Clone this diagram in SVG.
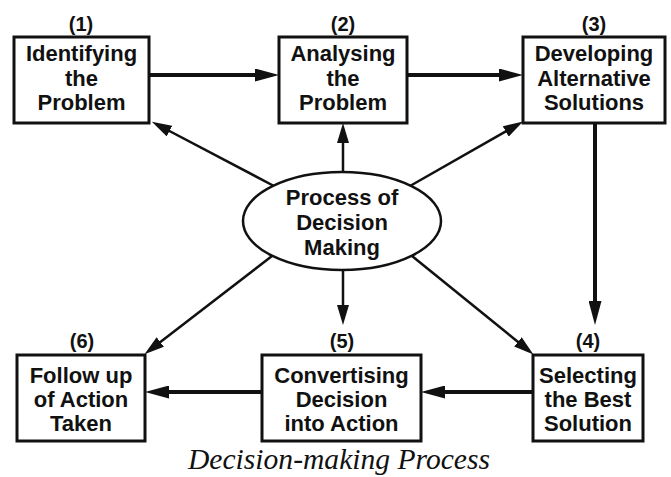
<svg xmlns="http://www.w3.org/2000/svg" width="671" height="477" viewBox="0 0 671 477">
<style>
.box{fill:#fff;stroke:#111;stroke-width:3}
.t{font-family:"Liberation Sans",Arial,sans-serif;font-weight:bold;font-size:22px;fill:#111;text-anchor:middle}
.n{font-family:"Liberation Sans",Arial,sans-serif;font-weight:bold;font-size:20px;fill:#111;text-anchor:middle}
.thick{stroke:#111;stroke-width:4;fill:none}
.thin{stroke:#111;stroke-width:2.5;fill:none}
.cap{font-family:"Liberation Serif","Times New Roman",serif;font-style:italic;font-size:29px;fill:#111;text-anchor:middle}
</style>
<defs>
<marker id="big" markerUnits="userSpaceOnUse" viewBox="0 0 24 13" markerWidth="24" markerHeight="13" refX="16" refY="6.5" orient="auto">
<path d="M0,0 L24,6.5 L0,13 z" fill="#111"/>
</marker>
<marker id="small" markerUnits="userSpaceOnUse" viewBox="0 0 20 12" markerWidth="20" markerHeight="12" refX="13" refY="6" orient="auto">
<path d="M0,0 L20,6 L0,12 z" fill="#111"/>
</marker>
</defs>
<g id="connectors">
<line class="thick" x1="149" y1="75" x2="271" y2="75" marker-end="url(#big)"/>
<line class="thick" x1="407" y1="75" x2="515" y2="75" marker-end="url(#big)"/>
<line class="thick" x1="595" y1="123" x2="595" y2="317" marker-end="url(#big)"/>
<line class="thick" x1="533" y1="392" x2="429" y2="392" marker-end="url(#big)"/>
<line class="thick" x1="262" y1="392" x2="153" y2="392" marker-end="url(#big)"/>
<line class="thin" x1="274" y1="186" x2="158" y2="125" marker-end="url(#small)"/>
<line class="thin" x1="343" y1="172" x2="343" y2="130" marker-end="url(#small)"/>
<line class="thin" x1="410" y1="186" x2="517" y2="125" marker-end="url(#small)"/>
<line class="thin" x1="272" y1="256" x2="150" y2="350" marker-end="url(#small)"/>
<line class="thin" x1="343" y1="270" x2="343" y2="318" marker-end="url(#small)"/>
<line class="thin" x1="412" y1="256" x2="528" y2="350" marker-end="url(#small)"/>
</g>
<g id="node1">
<text class="n" x="81" y="31">(1)</text>
<rect class="box" x="14" y="37" width="135" height="86"/>
<text class="t" x="81.5" y="61">Identifying</text>
<text class="t" x="81.5" y="86">the</text>
<text class="t" x="81.5" y="110">Problem</text>
</g>
<g id="node2">
<text class="n" x="343" y="31">(2)</text>
<rect class="box" x="279" y="37" width="128" height="86"/>
<text class="t" x="343" y="61">Analysing</text>
<text class="t" x="343" y="86">the</text>
<text class="t" x="343" y="110">Problem</text>
</g>
<g id="node3">
<text class="n" x="594" y="31">(3)</text>
<rect class="box" x="523" y="37" width="142" height="86"/>
<text class="t" x="594" y="61">Developing</text>
<text class="t" x="594" y="86">Alternative</text>
<text class="t" x="594" y="110">Solutions</text>
</g>
<g id="center">
<ellipse cx="342" cy="221" rx="99" ry="49" fill="#fff" stroke="#111" stroke-width="2.5"/>
<text class="t" x="342" y="205">Process of</text>
<text class="t" x="342" y="230">Decision</text>
<text class="t" x="342" y="255">Making</text>
</g>
<g id="node4">
<text class="n" x="588" y="348">(4)</text>
<rect class="box" x="533" y="355" width="110" height="86"/>
<text class="t" x="588" y="383">Selecting</text>
<text class="t" x="588" y="407">the Best</text>
<text class="t" x="588" y="431">Solution</text>
</g>
<g id="node5">
<text class="n" x="342" y="348">(5)</text>
<rect class="box" x="262" y="355" width="159" height="86"/>
<text class="t" x="341.5" y="383">Convertising</text>
<text class="t" x="341.5" y="407">Decision</text>
<text class="t" x="341.5" y="431">into Action</text>
</g>
<g id="node6">
<text class="n" x="82" y="348">(6)</text>
<rect class="box" x="17" y="355" width="128" height="86"/>
<text class="t" x="81" y="383">Follow up</text>
<text class="t" x="81" y="407">of Action</text>
<text class="t" x="81" y="431">Taken</text>
</g>
<text class="cap" x="339" y="469" textLength="302" lengthAdjust="spacingAndGlyphs">Decision-making Process</text>
</svg>
